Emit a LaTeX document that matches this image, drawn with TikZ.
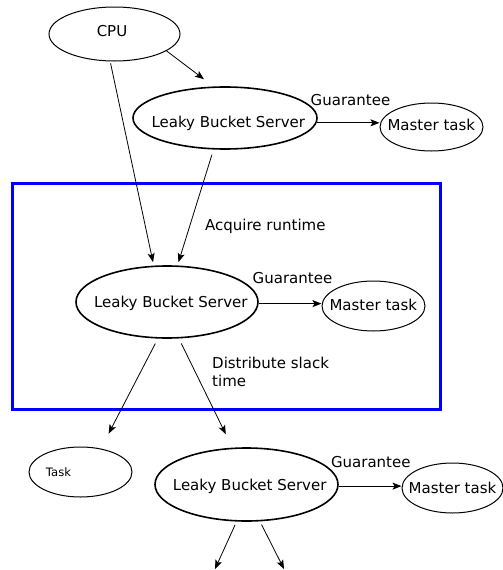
\documentclass[tikz,border=0pt]{standalone}
\usepackage{fontspec}
\setmainfont{DejaVu Sans}
\usetikzlibrary{shapes.geometric,arrows.meta,calc}
\begin{document}
\begin{tikzpicture}[x=1pt,y=-1pt,
  oval/.style={draw, ellipse, inner sep=0pt, line width=1pt},
  server/.style={oval, line width=1.6pt},
  txt/.style={font=\fontsize{15}{18.3}\selectfont, inner sep=0pt, anchor=base},
  note/.style={txt, anchor=base west, align=left},
  conn/.style={-{Stealth[length=9pt,width=7pt,inset=2pt]}, line width=0.8pt},
]
\useasboundingbox (0,0) rectangle (503,570);

% group frame
\draw[blue, line width=2.5pt] (12.5,183.5) rectangle (440.5,409.5);

% ellipses
\node[oval, minimum width=131pt, minimum height=54pt] (cpu) at (114.5,34) {};
\node[server, minimum width=184pt, minimum height=62pt] (lbs1) at (225,118) {};
\node[oval, minimum width=103pt, minimum height=48pt] (mt1) at (431.5,127) {};
\node[server, minimum width=182pt, minimum height=72pt] (lbs2) at (167,302) {};
\node[oval, minimum width=103pt, minimum height=50pt] (mt2) at (373.5,306) {};
\node[oval, minimum width=103pt, minimum height=50pt] (task) at (80.5,472) {};
\node[server, minimum width=183pt, minimum height=73pt] (lbs3) at (246.5,484.5) {};
\node[oval, minimum width=101pt, minimum height=50pt] (mt3) at (452.5,488) {};

% ellipse texts
\node[txt] (cpu-t) at (112,36) {CPU};
\node[txt] (lbs1-t) at (228.3,127.7) {Leaky Bucket Server};
\node[txt] (mt1-t) at (431.3,130.7) {Master task};
\node[txt] (lbs2-t) at (170.8,307.3) {Leaky Bucket Server};
\node[txt] (mt2-t) at (373.3,310.7) {Master task};
\node[txt, font=\fontsize{11.6}{14}\selectfont] (task-t) at (58.5,476.7) {Task};
\node[txt] (lbs3-t) at (249.7,490) {Leaky Bucket Server};
\node[txt] (mt3-t) at (452.5,493.3) {Master task};

% edge labels
\node[txt] (g1) at (350.5,105) {Guarantee};
\node[txt] (g2) at (292.5,283.3) {Guarantee};
\node[txt] (g3) at (370.8,467.7) {Guarantee};
\node[note] (acq) at (205,230) {Acquire runtime};
% base of a two-line node sits on its last line
\node[note] (dist) at (212,386.7) {Distribute slack\\time};

% loose ends below the last server
\coordinate (out1) at (215,569);
\coordinate (out2) at (284,569);

% connectors
\draw[conn, shorten >=12pt] (cpu.-18) -- (lbs1.110);
\draw[conn, shorten <=2pt, shorten >=3.5pt] (cpu.-99) -- (lbs2.110.5);
\draw[conn, shorten <=5.5pt, shorten >=3.4pt] (lbs1.-110) -- (lbs2.74);
\draw[conn] (lbs1.-3) -- (lbs1.-3 -| mt1.west);
\draw[conn] (lbs2.-1.5) -- (lbs2.-1.5 -| mt2.west);
\draw[conn, shorten <=5.5pt, shorten >=16.8pt] (lbs2.-104.7) -- (task.49);
\draw[conn, shorten <=5.5pt, shorten >=14.9pt] (lbs2.-72.2) -- (lbs3.111);
\draw[conn] (lbs3.-1) -- (lbs3.-1 -| mt3.west);
\draw[conn, shorten <=3.5pt] (lbs3.-105.5) -- (out1);
\draw[conn, shorten <=3.5pt] (lbs3.-70.5) -- (out2);
\end{tikzpicture}
\end{document}
